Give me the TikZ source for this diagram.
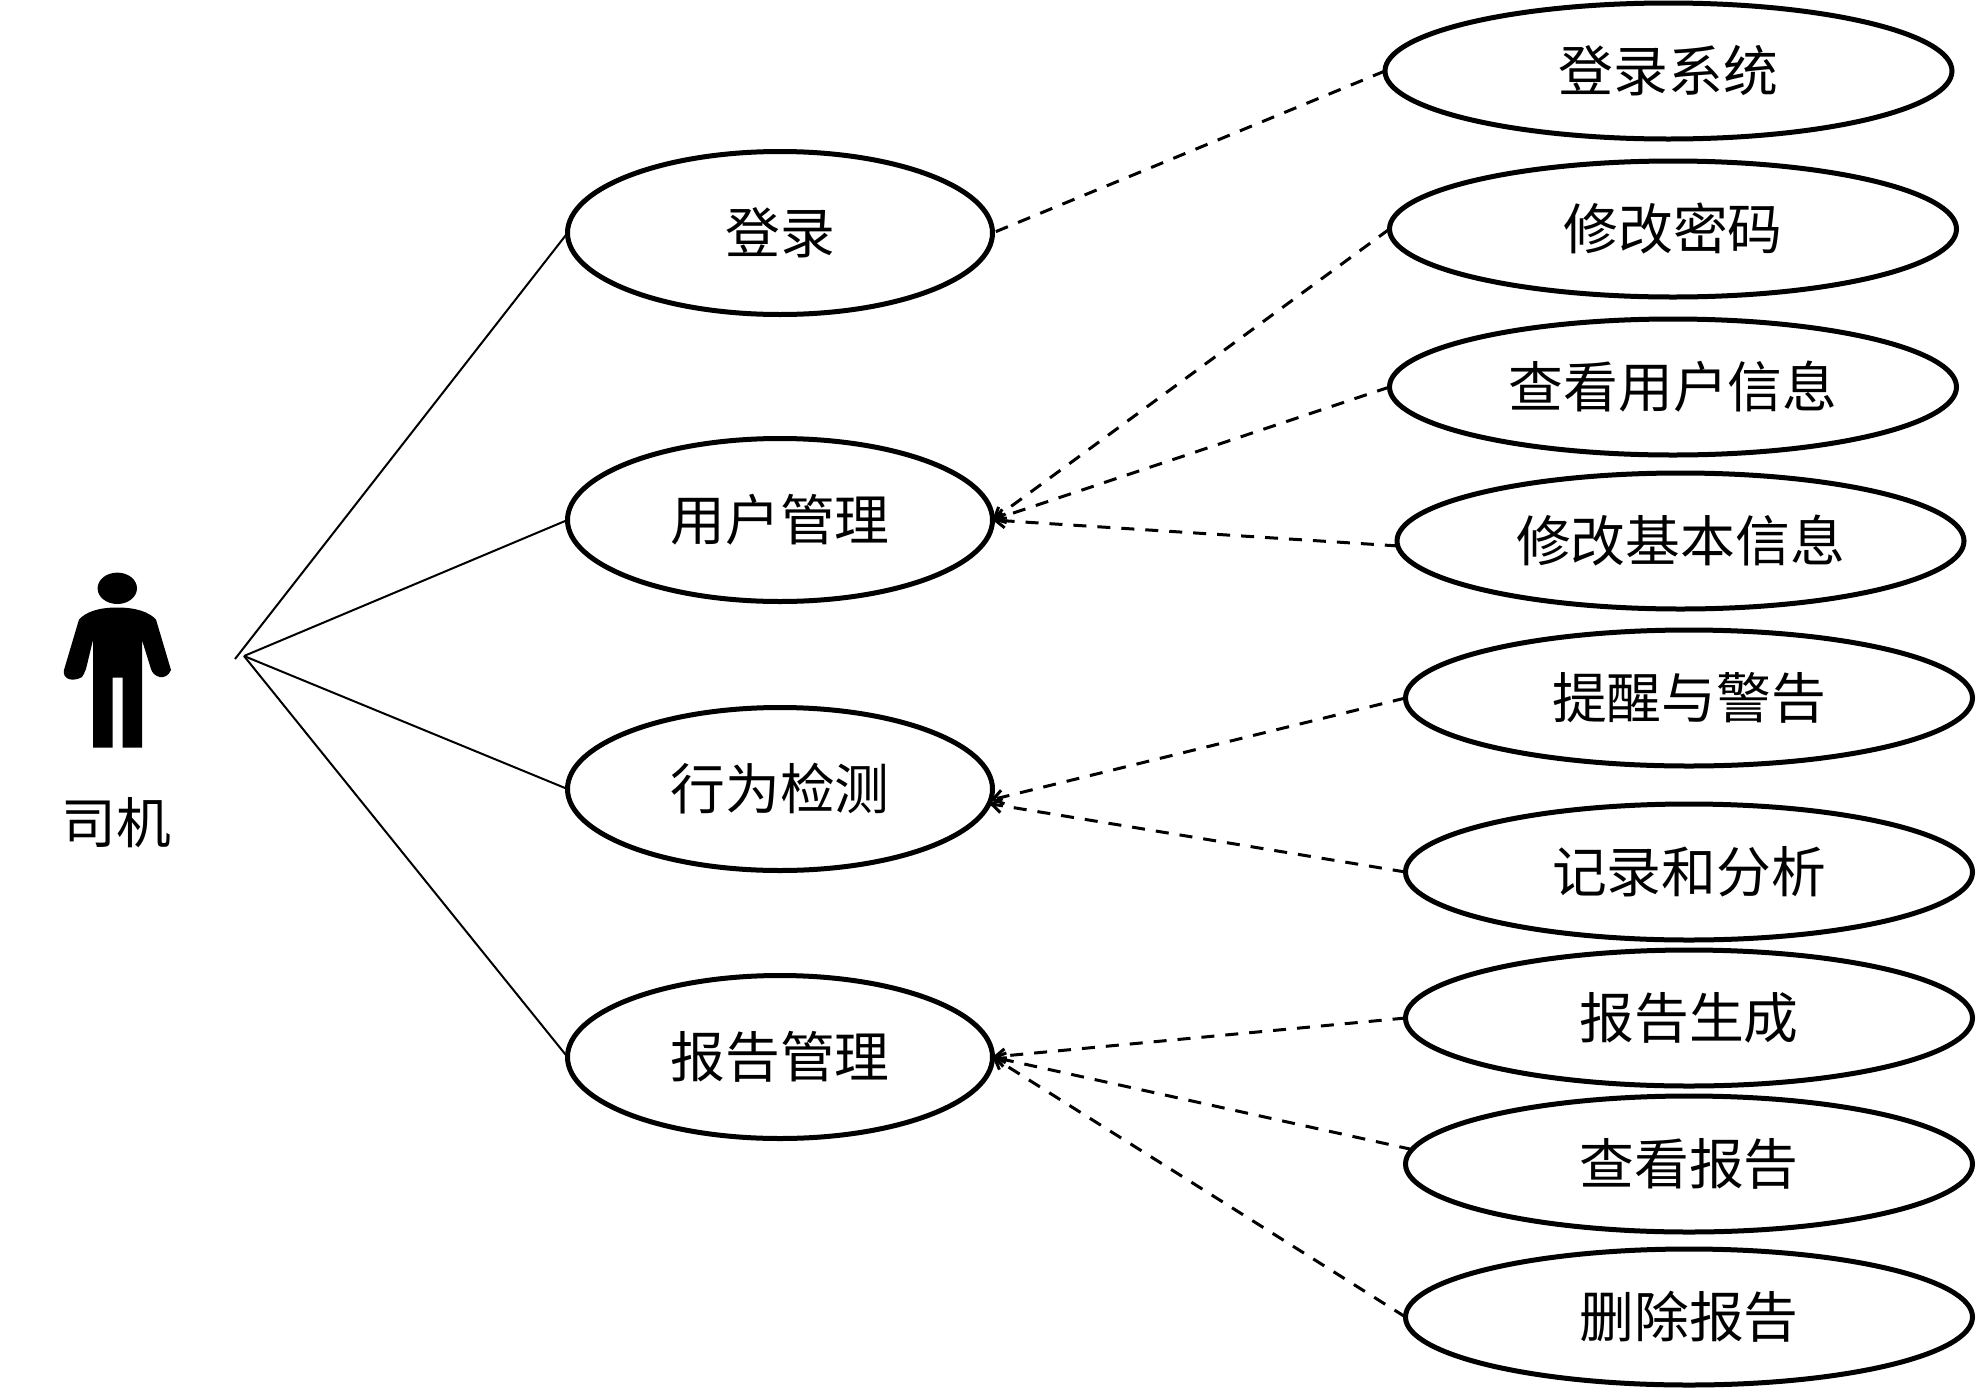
\documentclass[tikz,border=0pt]{standalone}
\usepackage{fontspec}
\usetikzlibrary{arrows.meta,shapes.geometric}
\newfontfamily\cjkfont{Noto Sans CJK SC}

\begin{document}
\begin{tikzpicture}[
  x=0.5pt, y=-0.5pt,
  font=\cjkfont\fontsize{27.4}{30}\selectfont,
  usecase/.style={draw, ellipse, line width=2.5pt, inner sep=0pt, outer sep=0pt, minimum width=212.5pt, minimum height=81.5pt},
  subcase/.style={draw, ellipse, line width=2.5pt, inner sep=0pt, outer sep=0pt, minimum width=283.5pt, minimum height=68pt},
  assoc/.style={line width=1pt},
  depline/.style={line width=1.5pt, dash pattern=on 6.5pt off 5.5pt},
  dep/.style={depline, -{Straight Barb[length=5pt,width=7pt]}},
]
  \useasboundingbox (0,0) rectangle (1976,1387);

  % actor
  \fill (117.3,588.3) ellipse [x radius=19.7, y radius=15.7];
  \fill (117.3,607.5)
    .. controls (98,607.5) and (86,612) .. (79,619.5)
    -- (64,670)
    .. controls (62,680) and (74,682) .. (82,677)
    .. controls (84,675) and (84,673) .. (86,669)
    -- (93,640) -- (93,747.5) -- (112.5,747.5) -- (112.5,677.5) -- (122.5,677.5) -- (122.5,747.5) -- (142,747.5) -- (142,640)
    -- (151,669)
    .. controls (153,677) and (166,682) .. (171,670)
    -- (156,619.5)
    .. controls (149,612) and (136,607.5) .. (117.3,607.5) -- cycle;
  \node (driver) at (116.7,823) {司机};
  \coordinate (hubtop) at (235,659);
  \coordinate (hub) at (244,656);

  % use cases
  \node[usecase] (login) at (780,233) {登录};
  \node[usecase] (user) at (780,520) {用户管理};
  \node[usecase] (detect) at (780,789) {行为检测};
  \node[usecase] (report) at (780,1057) {报告管理};

  \node[subcase] (system) at (1668.5,71) {登录系统};
  \node[subcase] (passwd) at (1673,229) {修改密码};
  \node[subcase] (userinfo) at (1673,387) {查看用户信息};
  \node[subcase] (baseinfo) at (1680.5,541) {修改基本信息};
  \node[subcase] (warn) at (1689,698) {提醒与警告};
  \node[subcase] (record) at (1689,872) {记录和分析};
  \node[subcase] (gen) at (1689,1018) {报告生成};
  \node[subcase] (view) at (1689,1164) {查看报告};
  \node[subcase] (del) at (1689,1317) {删除报告};

  \draw[assoc] (hubtop) -- (login.west);
  \draw[assoc] (hub) -- (user.west);
  \draw[assoc] (hub) -- (detect.west);
  \draw[assoc] (hub) -- (report.west);

  \draw[depline] (system.west) -- (login.east);
  \draw[dep] (passwd.west) -- (user.east);
  \draw[dep] (userinfo.west) -- (user.east);
  \draw[dep] (baseinfo.181) -- (user.east);
  \draw[dep] (warn.west) -- (detect.-3);
  \draw[dep] (record.west) -- (detect.-4.5);
  \draw[dep] (gen.west) -- (report.east);
  \draw[dep] (view.177.5) -- (report.east);
  \draw[dep] (del.west) -- (report.east);
\end{tikzpicture}
\end{document}
